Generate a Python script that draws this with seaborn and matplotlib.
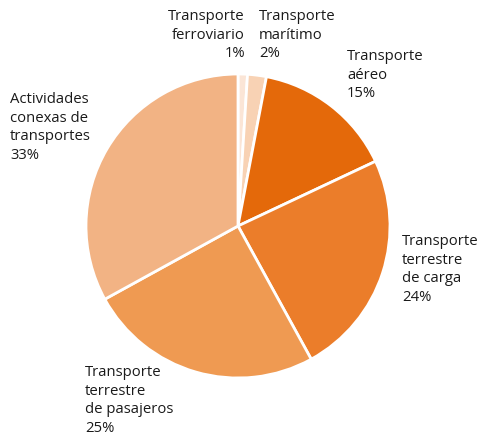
import matplotlib
matplotlib.use("Agg")
import matplotlib.pyplot as plt
import seaborn as sns

# Data
categories = ["Transporte\nferroviario", "Transporte\nmarítimo", "Transporte\naéreo",
              "Transporte\nterrestre\nde carga", "Transporte\nterrestre\nde pasajeros",
              "Actividades\nconexas de\ntransportes"]
shares = [1, 2, 15, 24, 25, 33]
colors = ["#FBE5D6", "#F8D2B4", "#E4690A", "#EB7D2A", "#EF9A52", "#F2B384"]

sns.set_theme(style="white")
plt.rcParams["font.family"] = ["Open Sans", "DejaVu Sans"]

fig = plt.figure(figsize=(4.8, 4.41), dpi=100)
ax = fig.add_axes([0, 0, 1, 1])
ax.set_xlim(0, 480)
ax.set_ylim(0, 441)
ax.set_aspect("equal")
ax.axis("off")

ax.pie(shares, colors=colors, startangle=90, counterclock=False,
       center=(238, 441 - 226), radius=152,
       wedgeprops=dict(edgecolor="white", linewidth=2))
ax.set_xlim(0, 480)
ax.set_ylim(0, 441)

# label positions (left/top in pixel coords) and alignment
label_pos = [(245, 9, "right"), (259, 9, "left"), (347, 49, "left"),
             (402, 234, "left"), (85, 365, "left"), (10, 92, "left")]
for cat, val, (x, y, ha) in zip(categories, shares, label_pos):
    ax.text(x, 441 - y, f"{cat}\n{val}%", ha=ha, va="top", fontsize=10.7,
            color="#1a1a1a", linespacing=1.32)

fig.savefig("out.png", dpi=100)
